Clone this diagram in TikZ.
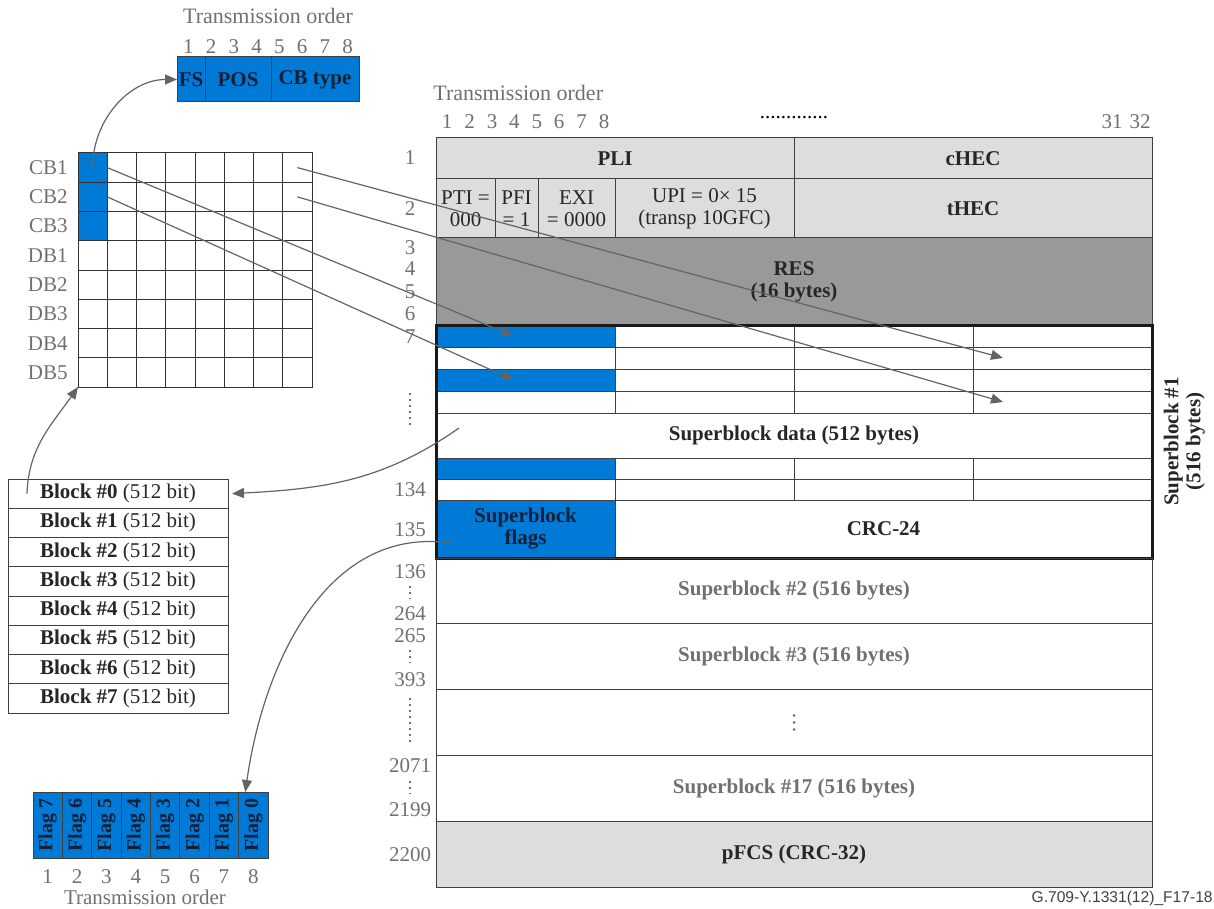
\documentclass[tikz,border=0pt]{standalone}
\usepackage{fontspec}
\setmainfont{Liberation Serif}
\newfontfamily\figidfont{Liberation Sans}
\usetikzlibrary{arrows.meta,positioning,fit,backgrounds}

\definecolor{cbblue}{RGB}{0,122,215}
\definecolor{hdrgray}{RGB}{221,221,221}
\definecolor{resgray}{RGB}{153,153,153}
\definecolor{lblgray}{RGB}{112,112,112}
\definecolor{navytext}{RGB}{20,32,56}
\definecolor{arrgray}{RGB}{100,100,100}

\newcommand{\figsize}{\fontsize{10.5}{11}\selectfont}

\tikzset{
    gridcell/.style={draw=black!80, line width=0.5pt, minimum width=14.625pt, minimum height=14.625pt, inner sep=0pt, outer sep=0pt},
    fld/.style={draw=black!75, line width=0.5pt, inner sep=0pt, outer sep=0pt, anchor=north west, align=center, text=black!85},
    bfld/.style={fld, font=\figsize\bfseries},
    lbl/.style={text=lblgray, inner sep=0pt},
    arr/.style={draw=arrgray, line width=0.6pt, -{Triangle[length=6pt, width=5pt]}},
}

\begin{document}
\begin{tikzpicture}[x=0.5pt, y=-0.5pt, font=\figsize]
    \useasboundingbox (0,0) rectangle (1214,909);

    % Control block word
    \node[lbl, font=\fontsize{11}{13}\selectfont] (cbtitle) at (268,16) {Transmission order};
    \foreach \i in {1,...,8} {
        \node[lbl] (cbbit\i) at (177+22.75*\i-11.375, 47) {\i};
    }
    \node[bfld, fill=cbblue, text=navytext, minimum width=14pt, minimum height=22.5pt] (fs) at (177,57) {FS};
    \node[bfld, fill=cbblue, text=navytext, minimum width=33pt, minimum height=22.5pt] (pos) at (205,57) {POS};
    \node[bfld, fill=cbblue, text=navytext, minimum width=44pt, minimum height=22.5pt] (cbtype) at (271,57) {CB type};

    % Block grid
    \foreach \r/\name in {1/CB1,2/CB2,3/CB3,4/DB1,5/DB2,6/DB3,7/DB4,8/DB5} {
        \node[lbl, anchor=east] (rowlbl\r) at (68, 153+29.25*\r-14.625) {\name};
        \foreach \c in {1,...,8} {
            \node[gridcell] (g\c\r) at (78+29.25*\c-14.625, 153+29.25*\r-14.625) {};
        }
    }
    \begin{scope}[on background layer]
        \fill[cbblue] (g11.north west) rectangle (g13.south east);
    \end{scope}

    % Frame header
    \node[lbl, anchor=west, font=\fontsize{11}{13}\selectfont] (frtitle) at (433,93) {Transmission order};
    \foreach \i in {1,...,8} {
        \node[lbl] (frbit\i) at (436+22.4*\i-11.2, 122) {\i};
    }
    \node[inner sep=0pt] (frdots) at (794,118) {.............};
    \node[lbl] (frbit31) at (1112,122) {31};
    \node[lbl] (frbit32) at (1140,122) {32};

    % Frame rows
    \node[bfld, fill=hdrgray, minimum width=179pt, minimum height=20.5pt] (pli) at (436,138) {PLI};
    \node[bfld, fill=hdrgray, minimum width=179pt, minimum height=20.5pt] (chec) at (794,138) {cHEC};
    \node[fld, fill=hdrgray, minimum width=29.5pt, minimum height=29.5pt] (pti) at (436,179) {PTI =\\000};
    \node[fld, fill=hdrgray, minimum width=21.5pt, minimum height=29.5pt] (pfi) at (495,179) {PFI\\= 1};
    \node[fld, fill=hdrgray, minimum width=38.5pt, minimum height=29.5pt] (exi) at (538,179) {EXI\\= 0000};
    \node[fld, fill=hdrgray, minimum width=89.5pt, minimum height=29.5pt] (upi) at (615,179) {UPI = 0× 15\\(transp 10GFC)};
    \node[bfld, fill=hdrgray, minimum width=179pt, minimum height=29.5pt] (thec) at (794,179) {tHEC};
    \node[bfld, fill=resgray, minimum width=358pt, minimum height=43.5pt] (res) at (436,238) {RES\\(16 bytes)};

    % Superblock #1
    \foreach \r/\y/\h in {1/325/22, 2/347/22, 3/369/22, 4/391/22, 6/458/21, 7/479/21} {
        \foreach \c in {1,...,4} {
            \node[fld, minimum width=89.5pt, minimum height=\h*0.5pt] (s\r-\c) at (436+179*\c-179, \y) {};
        }
    }
    \node[bfld, minimum width=358pt, minimum height=22.5pt] (sbdata) at (436,413) {Superblock data (512 bytes)};
    \node[bfld, fill=cbblue, text=navytext, minimum width=89.5pt, minimum height=29pt] (sbflags) at (436,500) {Superblock\\flags};
    \node[bfld, minimum width=268.5pt, minimum height=29pt] (crc) at (615,500) {CRC-24};
    \begin{scope}[on background layer]
        \foreach \r in {1,3,6} {
            \fill[cbblue] (s\r-1.north west) rectangle (s\r-1.south east);
        }
    \end{scope}
    \node[draw=black!90, line width=1.5pt, fit=(s1-1) (crc), inner sep=0pt] (sb1) {};
    \node[rotate=90, anchor=north, align=center, inner sep=0pt, font=\fontsize{10.5}{11}\selectfont\bfseries, text=black!85] (sb1lbl) at ([xshift=5pt]sb1.east) {Superblock \#1\\(516 bytes)};

    % Remaining superblocks
    \foreach \i/\txt in {0/{Superblock \#2 (516 bytes)}, 1/{Superblock \#3 (516 bytes)}, 2/{}, 3/{Superblock \#17 (516 bytes)}} {
        \node[bfld, text=lblgray, minimum width=358pt, minimum height=32.9pt] (sbx\i) at (436, 558+65.8*\i) {\txt};
    }
    \node[bfld, fill=hdrgray, minimum width=358pt, minimum height=32.9pt] (pfcs) at (436,821.2) {pFCS (CRC-32)};
    \foreach \d in {-1,0,1} {
        \fill[lblgray] ([yshift=\d*3.5pt]sbx2.center) circle (0.75pt);
    }

    % Row numbers
    \foreach \n/\y in {1/158, 2/209, 3/248, 4/269, 5/292, 6/314, 7/337, 134/490, 135/530, 136/572, 264/614, 265/636, 393/680, 2071/766, 2199/810, 2200/855} {
        \node[lbl] (rn\n) at (410,\y) {\n};
    }
    \foreach \y in {593, 657, 788} {
        \draw[lblgray, line width=0.9pt, dotted] (410,\y-7) -- (410,\y+7);
    }
    \draw[lblgray, line width=1pt, dotted] (410,393) -- (410,427);
    \draw[lblgray, line width=1pt, dotted] (410,698) -- (410,742);

    % Blocks
    \foreach \i in {0,...,7} {
        \node[fld, minimum width=110pt, minimum height=14.625pt] (blk\i) at (8, 479+29.25*\i) {\textbf{Block \#\i} (512 bit)};
    }

    % Flags
    \foreach \i/\f in {1/7,2/6,3/5,4/4,5/3,6/2,7/1,8/0} {
        \node[fld, fill=cbblue, minimum width=14.69pt, minimum height=33pt] (flag\f) at (33+29.375*\i-29.375, 792) {};
        \node[rotate=90, inner sep=0pt, font=\fontsize{10}{11}\selectfont\bfseries, text=navytext] (flagtxt\f) at (flag\f) {Flag \f};
        \node[lbl] (flagbit\i) at (33+29.375*\i-14.69, 877) {\i};
    }
    \node[lbl] (flagtitle) at (145,897) {Transmission order};

    % Arrows
    \coordinate (blkup) at ([xshift=9.5pt]blk0.west);
    \coordinate (datastart) at ([xshift=11.5pt, yshift=3.75pt]sbdata.west);
    \coordinate (flagstart) at ([xshift=7pt, yshift=-7pt]sbflags.west);
    \draw[arr] (g11.center) to[out=90, in=180] (fs.west);
    \draw[arr] (blkup) to[out=88, in=235] (g18.south west);
    \draw[arr] (datastart) to[out=215, in=3] ([xshift=2pt]blk0.east);
    \draw[arr] (flagstart) to[out=172, in=82] ([xshift=-4pt]flag0.north);
    \draw[arr] (g11.east) -- ([xshift=-6pt]s1-1.center);
    \draw[arr] (g12.east) -- ([xshift=-6pt]s3-1.center);
    \draw[arr] (g81.center) -- ([xshift=15pt]s2-4.west);
    \draw[arr] (g82.center) -- ([xshift=15pt]s4-4.west);

    % Figure id
    \node[anchor=east, inner sep=0pt, font=\figidfont\fontsize{7.8}{9}\selectfont, text=black!75] (figid) at (1213,898) {G.709-Y.1331(12)\_F17-18};
\end{tikzpicture}
\end{document}
